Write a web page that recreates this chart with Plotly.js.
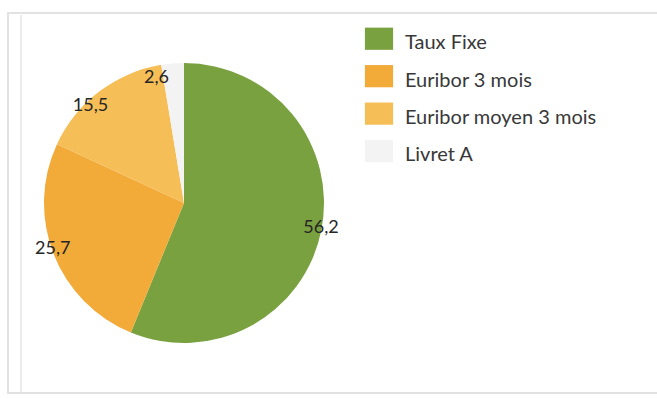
<!DOCTYPE html>
<html>
<head>
<meta charset="utf-8">
<script src="https://cdn.plot.ly/plotly-3.0.1.min.js"></script>
<style>html,body{margin:0;padding:0;background:#fff}#chart{width:657px;height:399px}</style>
</head>
<body>
<div id="chart"></div>
<script>
// Data
const categories = ["Taux Fixe", "Euribor 3 mois", "Euribor moyen 3 mois", "Livret A"];
const shares = [56.2, 25.7, 15.5, 2.6];
const sliceColors = ["#79A13F", "#F2AA38", "#F5BE57", "#F3F3F3"];

const W = 657, H = 399;
const px = v => v / W;
const py = v => 1 - v / H;
const CX = 184, CY = 203, R = 140, RLAB = 116;
const labelFont = {family: "Lato, 'DejaVu Sans', sans-serif", size: 18, color: "#262626"};
const legendLabels = categories.map(c => '<span style="font-size:20px">' + c + '</span>');

// visible pie
const pieTrace = {
  type: "pie",
  labels: legendLabels,
  values: shares,
  sort: false,
  direction: "clockwise",
  rotation: 0,
  marker: {colors: sliceColors, line: {width: 0}},
  textinfo: "none",
  hoverinfo: "none",
  domain: {x: [px(CX - R), px(CX + R)], y: [py(CY + R), py(CY - R)]}
};

// same data, used only to place the value labels around the rim
const labelTrace = {
  type: "pie",
  labels: legendLabels,
  values: shares,
  sort: false,
  direction: "clockwise",
  rotation: 0,
  showlegend: false,
  marker: {colors: sliceColors.map(() => "rgba(0,0,0,0)"), line: {width: 0}},
  texttemplate: "%{value:.1f}",
  textposition: "outside",
  textfont: labelFont,
  outsidetextfont: labelFont,
  hoverinfo: "none",
  domain: {x: [px(CX - RLAB), px(CX + RLAB)], y: [py(CY + RLAB), py(CY - RLAB)]}
};

const layout = {
  width: W, height: H,
  margin: {l: 0, r: 0, t: 0, b: 0},
  paper_bgcolor: "#ffffff",
  separators: ", ",
  showlegend: true,
  legend: {
    x: px(353), y: py(15), xanchor: "left", yanchor: "top",
    font: {family: "Lato, 'DejaVu Sans', sans-serif", size: 26.5, color: "#383838"},
    itemwidth: 42,
    bgcolor: "rgba(0,0,0,0)"
  },
  shapes: [
    {type: "rect", xref: "paper", yref: "paper", x0: px(8), x1: px(662), y0: py(393), y1: py(13),
     line: {color: "#e2e2e2", width: 2}},
    {type: "line", xref: "paper", yref: "paper", x0: px(21), x1: px(21), y0: py(392), y1: py(15),
     line: {color: "#ececec", width: 2}}
  ]
};

Plotly.newPlot("chart", [pieTrace, labelTrace], layout, {staticPlot: true, displayModeBar: false}).then(() => {
  document.querySelectorAll(".legend .traces").forEach(g => {
    const t = g.querySelector(".legendtext");
    const p = g.querySelector(".legendpoints path");
    if (!t || !p) return;
    const tx = parseFloat(t.getAttribute("x")) || 52;
    p.setAttribute("transform", "translate(" + (tx - 26) + ",0) scale(2.35,1.85)");
  });
});
</script>
</body>
</html>
